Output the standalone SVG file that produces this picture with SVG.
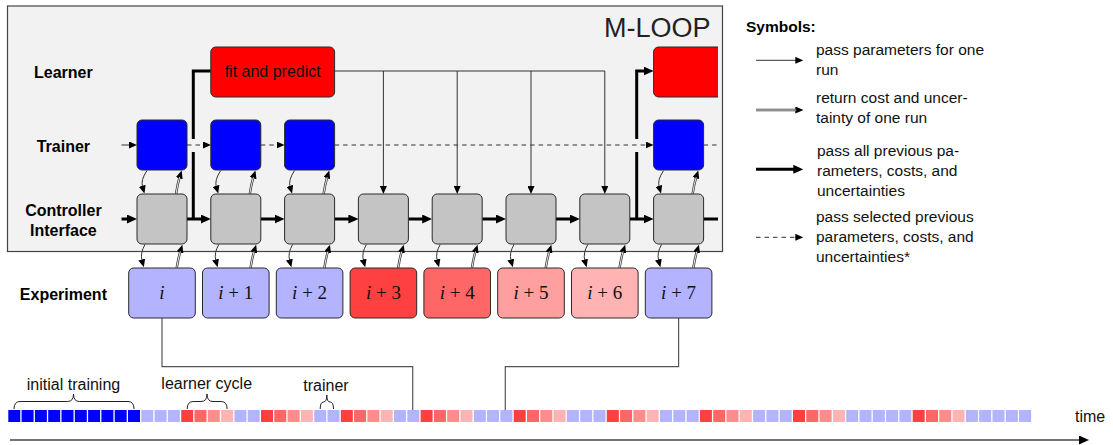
<svg xmlns="http://www.w3.org/2000/svg" width="1113" height="445" viewBox="0 0 1113 445">
<defs>
<style>
.lbl{font-family:"Liberation Sans",Arial,sans-serif;font-weight:bold;font-size:16px;fill:#000;text-anchor:middle}
.leg{font-family:"Liberation Sans",Arial,sans-serif;font-size:15.5px;fill:#111}
.sym{font-family:"Liberation Sans",Arial,sans-serif;font-weight:bold;font-size:15.5px;fill:#000}
.txt{font-family:"Liberation Sans",Arial,sans-serif;font-size:16px;fill:#111}
.math{font-family:"Liberation Serif","Times New Roman",serif;font-size:19px;fill:#111;text-anchor:middle}
.box{stroke:#2a2a2a;stroke-width:1}
.tr{fill:#0000ff}
.ct{fill:#c4c4c4}
.lr{fill:#ff0000}
.eb{fill:#b3b3ff}
.e3{fill:#ff4040}
.e4{fill:#ff6666}
.e5{fill:#ff9f9f}
.e6{fill:#ffb3b3}
.thin{fill:none;stroke:#333;stroke-width:1}
.thick{fill:none;stroke:#000;stroke-width:3}
.dash{fill:none;stroke:#333;stroke-width:1;stroke-dasharray:4.5 4}
.dblo{fill:none;stroke:#333;stroke-width:2.4}
.dbli{fill:none;stroke:#fff;stroke-width:0.9}
.gl{fill:none;stroke:#555;stroke-width:1.2}
.br{fill:none;stroke:#222;stroke-width:1}
.d{fill:#0000ff}
.l{fill:#b3b3ff}
.r1{fill:#ff4040}
.r2{fill:#ff6666}
.r3{fill:#ff8c8c}
.r4{fill:#ffb3b3}
</style>
<marker id="a" viewBox="0 0 8 7" refX="1" refY="3.5" markerWidth="8" markerHeight="7" markerUnits="userSpaceOnUse" orient="auto"><path d="M0,0 L8,3.5 L0,7 z" fill="#000"/></marker>
<marker id="ab" viewBox="0 0 10 9" refX="1" refY="4.5" markerWidth="10" markerHeight="9" markerUnits="userSpaceOnUse" orient="auto"><path d="M0,0 L10,4.5 L0,9 z" fill="#000"/></marker>
<clipPath id="pc"><rect x="0" y="0" width="718" height="445"/></clipPath>
</defs>

<rect id="panel" x="7.5" y="6" width="715" height="245.5" fill="#f2f2f2" stroke="#444" stroke-width="1.2"/>
<text x="710.5" y="36.7" font-family="'Liberation Sans',Arial,sans-serif" font-size="27" fill="#222" text-anchor="end">M-LOOP</text>

<g id="row-labels">
<text class="lbl" x="63.4" y="78.3">Learner</text>
<text class="lbl" x="63.4" y="151.7">Trainer</text>
<text class="lbl" x="63.4" y="216">Controller</text>
<text class="lbl" x="63.4" y="235.7">Interface</text>
<text class="lbl" x="63.4" y="299.5">Experiment</text>
</g>

<g id="connectors" clip-path="url(#pc)">
<path class="thin" d="M121.5,145 H130" marker-end="url(#a)"/>
<path class="dash" d="M187,145 H204" marker-end="url(#a)"/>
<path class="dash" d="M260.8,145 H277.6" marker-end="url(#a)"/>
<path class="dash" d="M334.6,145 H646.6" marker-end="url(#a)"/>
<path class="dash" d="M703.6,145 H720"/>
<path class="thick" d="M121.5,219 H128" marker-end="url(#ab)"/>
<path class="thick" d="M187,219 H201.8" marker-end="url(#ab)"/>
<path class="thick" d="M260.8,219 H275.6" marker-end="url(#ab)"/>
<path class="thick" d="M334.6,219 H349.4" marker-end="url(#ab)"/>
<path class="thick" d="M408.4,219 H423.2" marker-end="url(#ab)"/>
<path class="thick" d="M482.2,219 H497" marker-end="url(#ab)"/>
<path class="thick" d="M556,219 H570.8" marker-end="url(#ab)"/>
<path class="thick" d="M629.8,219 H644.6" marker-end="url(#ab)"/>
<path class="thick" d="M703.6,219 H720"/>
<path class="thick" d="M193.3,219 V152"/>
<path class="thick" d="M193.3,139 V71 H211"/>
<path class="thick" d="M636.7,219 V152"/>
<path class="thick" d="M636.7,139 V71 H644.6" marker-end="url(#ab)"/>
<path class="thin" d="M334.6,71 H604.8"/>
<path class="thin" d="M383.4,71 V187" marker-end="url(#a)"/>
<path class="thin" d="M457.2,71 V187" marker-end="url(#a)"/>
<path class="thin" d="M531,71 V187" marker-end="url(#a)"/>
<path class="thin" d="M604.8,71 V187" marker-end="url(#a)"/>
<path class="thin" d="M147,170.5 Q140.5,180 142.5,186.8" marker-end="url(#a)"/>
<path class="thin" d="M220.8,170.5 Q214.3,180 216.3,186.8" marker-end="url(#a)"/>
<path class="thin" d="M294.6,170.5 Q288.1,180 290.1,186.8" marker-end="url(#a)"/>
<path class="thin" d="M663.6,170.5 Q657.1,180 659.1,186.8" marker-end="url(#a)"/>
<path class="dblo" d="M176,194 Q177.5,184 179.6,177.2" marker-end="url(#a)"/><path class="dbli" d="M176,194 Q177.5,184 179.6,177.2"/>
<path class="dblo" d="M249.8,194 Q251.3,184 253.4,177.2" marker-end="url(#a)"/><path class="dbli" d="M249.8,194 Q251.3,184 253.4,177.2"/>
<path class="dblo" d="M323.6,194 Q325.1,184 327.2,177.2" marker-end="url(#a)"/><path class="dbli" d="M323.6,194 Q325.1,184 327.2,177.2"/>
<path class="dblo" d="M692.6,194 Q694.1,184 696.2,177.2" marker-end="url(#a)"/><path class="dbli" d="M692.6,194 Q694.1,184 696.2,177.2"/>
</g>

<g id="connectors-experiment">
<path class="thin" d="M145,244.5 Q140,253 142,260.5" marker-end="url(#a)"/>
<path class="thin" d="M218.8,244.5 Q213.8,253 215.8,260.5" marker-end="url(#a)"/>
<path class="thin" d="M292.6,244.5 Q287.6,253 289.6,260.5" marker-end="url(#a)"/>
<path class="thin" d="M366.4,244.5 Q361.4,253 363.4,260.5" marker-end="url(#a)"/>
<path class="thin" d="M440.2,244.5 Q435.2,253 437.2,260.5" marker-end="url(#a)"/>
<path class="thin" d="M514,244.5 Q509,253 511,260.5" marker-end="url(#a)"/>
<path class="thin" d="M587.8,244.5 Q582.8,253 584.8,260.5" marker-end="url(#a)"/>
<path class="thin" d="M661.6,244.5 Q656.6,253 658.6,260.5" marker-end="url(#a)"/>
<path class="dblo" d="M176.7,268 Q178.3,258 180.3,251.5" marker-end="url(#a)"/><path class="dbli" d="M176.7,268 Q178.3,258 180.3,251.5"/>
<path class="dblo" d="M250.5,268 Q252.1,258 254.1,251.5" marker-end="url(#a)"/><path class="dbli" d="M250.5,268 Q252.1,258 254.1,251.5"/>
<path class="dblo" d="M324.3,268 Q325.9,258 327.9,251.5" marker-end="url(#a)"/><path class="dbli" d="M324.3,268 Q325.9,258 327.9,251.5"/>
<path class="dblo" d="M398.1,268 Q399.7,258 401.7,251.5" marker-end="url(#a)"/><path class="dbli" d="M398.1,268 Q399.7,258 401.7,251.5"/>
<path class="dblo" d="M471.9,268 Q473.5,258 475.5,251.5" marker-end="url(#a)"/><path class="dbli" d="M471.9,268 Q473.5,258 475.5,251.5"/>
<path class="dblo" d="M545.7,268 Q547.3,258 549.3,251.5" marker-end="url(#a)"/><path class="dbli" d="M545.7,268 Q547.3,258 549.3,251.5"/>
<path class="dblo" d="M619.5,268 Q621.1,258 623.1,251.5" marker-end="url(#a)"/><path class="dbli" d="M619.5,268 Q621.1,258 623.1,251.5"/>
<path class="dblo" d="M693.3,268 Q694.9,258 696.9,251.5" marker-end="url(#a)"/><path class="dbli" d="M693.3,268 Q694.9,258 696.9,251.5"/>
<path class="gl" d="M162,318 V366.7 H412.7 V410"/>
<path class="gl" d="M678.6,318 V366.7 H505.3 V410"/>
</g>

<g id="learner-0"><rect class="box lr" x="210.8" y="47" width="123.8" height="50" rx="5"/>
<text x="272.7" y="77" font-family="'Liberation Sans',Arial,sans-serif" font-size="16" fill="#111" text-anchor="middle">fit and predict</text></g>
<g id="learner-7" clip-path="url(#pc)"><rect class="box lr" x="653.6" y="47" width="80" height="50" rx="5"/></g>

<g id="trainer-0"><rect class="box tr" x="137" y="120" width="50" height="50" rx="5"/></g>
<g id="trainer-1"><rect class="box tr" x="210.8" y="120" width="50" height="50" rx="5"/></g>
<g id="trainer-2"><rect class="box tr" x="284.6" y="120" width="50" height="50" rx="5"/></g>
<g id="trainer-7"><rect class="box tr" x="653.6" y="120" width="50" height="50" rx="5"/></g>

<g id="controller-0"><rect class="box ct" x="137" y="194" width="50" height="50" rx="5"/></g>
<g id="controller-1"><rect class="box ct" x="210.8" y="194" width="50" height="50" rx="5"/></g>
<g id="controller-2"><rect class="box ct" x="284.6" y="194" width="50" height="50" rx="5"/></g>
<g id="controller-3"><rect class="box ct" x="358.4" y="194" width="50" height="50" rx="5"/></g>
<g id="controller-4"><rect class="box ct" x="432.2" y="194" width="50" height="50" rx="5"/></g>
<g id="controller-5"><rect class="box ct" x="506" y="194" width="50" height="50" rx="5"/></g>
<g id="controller-6"><rect class="box ct" x="579.8" y="194" width="50" height="50" rx="5"/></g>
<g id="controller-7"><rect class="box ct" x="653.6" y="194" width="50" height="50" rx="5"/></g>

<g id="exp-0"><rect class="box eb" x="128.7" y="268" width="66.6" height="50" rx="5"/><text class="math" x="162" y="298.5"><tspan font-style="italic">i</tspan></text></g>
<g id="exp-1"><rect class="box eb" x="202.5" y="268" width="66.6" height="50" rx="5"/><text class="math" x="235.8" y="298.5"><tspan font-style="italic">i</tspan> + 1</text></g>
<g id="exp-2"><rect class="box eb" x="276.3" y="268" width="66.6" height="50" rx="5"/><text class="math" x="309.6" y="298.5"><tspan font-style="italic">i</tspan> + 2</text></g>
<g id="exp-3"><rect class="box e3" x="350.1" y="268" width="66.6" height="50" rx="5"/><text class="math" x="383.4" y="298.5"><tspan font-style="italic">i</tspan> + 3</text></g>
<g id="exp-4"><rect class="box e4" x="423.9" y="268" width="66.6" height="50" rx="5"/><text class="math" x="457.2" y="298.5"><tspan font-style="italic">i</tspan> + 4</text></g>
<g id="exp-5"><rect class="box e5" x="497.7" y="268" width="66.6" height="50" rx="5"/><text class="math" x="531" y="298.5"><tspan font-style="italic">i</tspan> + 5</text></g>
<g id="exp-6"><rect class="box e6" x="571.5" y="268" width="66.6" height="50" rx="5"/><text class="math" x="604.8" y="298.5"><tspan font-style="italic">i</tspan> + 6</text></g>
<g id="exp-7"><rect class="box eb" x="645.3" y="268" width="66.6" height="50" rx="5"/><text class="math" x="678.6" y="298.5"><tspan font-style="italic">i</tspan> + 7</text></g>

<g id="legend">
<text class="sym" x="746" y="31.7">Symbols:</text>
<path class="thin" d="M756,60.3 H796.3" marker-end="url(#a)"/>
<text class="leg" x="816" y="55">pass parameters for one</text>
<text class="leg" x="816" y="75">run</text>
<path class="dblo" d="M756,110 H796.3" marker-end="url(#a)"/><path class="dbli" d="M756,110 H796.3"/>
<text class="leg" x="816" y="102.7">return cost and uncer-</text>
<text class="leg" x="816" y="122.7">tainty of one run</text>
<path class="thick" d="M756,169.3 H794.3" marker-end="url(#ab)"/>
<text class="leg" x="817" y="156">pass all previous pa-</text>
<text class="leg" x="817" y="176">rameters, costs, and</text>
<text class="leg" x="817" y="195.5">uncertainties</text>
<path class="dash" d="M756,237.3 H796.3" marker-end="url(#a)"/>
<text class="leg" x="816" y="221.7">pass selected previous</text>
<text class="leg" x="816" y="241.7">parameters, costs, and</text>
<text class="leg" x="816" y="261.7">uncertainties*</text>
</g>

<g id="timeline">
<rect class="d" x="8.3" y="410" width="12" height="12"/>
<rect class="d" x="21.6" y="410" width="12" height="12"/>
<rect class="d" x="34.9" y="410" width="12" height="12"/>
<rect class="d" x="48.2" y="410" width="12" height="12"/>
<rect class="d" x="61.5" y="410" width="12" height="12"/>
<rect class="d" x="74.8" y="410" width="12" height="12"/>
<rect class="d" x="88.1" y="410" width="12" height="12"/>
<rect class="d" x="101.4" y="410" width="12" height="12"/>
<rect class="d" x="114.7" y="410" width="12" height="12"/>
<rect class="d" x="128" y="410" width="12" height="12"/>
<rect class="l" x="141.3" y="410" width="12" height="12"/>
<rect class="l" x="154.6" y="410" width="12" height="12"/>
<rect class="l" x="167.9" y="410" width="12" height="12"/>
<rect class="r1" x="181.2" y="410" width="12" height="12"/>
<rect class="r2" x="194.5" y="410" width="12" height="12"/>
<rect class="r3" x="207.8" y="410" width="12" height="12"/>
<rect class="r4" x="221.1" y="410" width="12" height="12"/>
<rect class="l" x="234.4" y="410" width="12" height="12"/>
<rect class="l" x="247.7" y="410" width="12" height="12"/>
<rect class="r1" x="261" y="410" width="12" height="12"/>
<rect class="r2" x="274.3" y="410" width="12" height="12"/>
<rect class="r3" x="287.6" y="410" width="12" height="12"/>
<rect class="r4" x="300.9" y="410" width="12" height="12"/>
<rect class="l" x="314.2" y="410" width="12" height="12"/>
<rect class="l" x="327.5" y="410" width="12" height="12"/>
<rect class="r1" x="340.8" y="410" width="12" height="12"/>
<rect class="r2" x="354.1" y="410" width="12" height="12"/>
<rect class="r3" x="367.4" y="410" width="12" height="12"/>
<rect class="r4" x="380.7" y="410" width="12" height="12"/>
<rect class="l" x="394" y="410" width="12" height="12"/>
<rect class="l" x="407.3" y="410" width="12" height="12"/>
<rect class="r1" x="420.6" y="410" width="12" height="12"/>
<rect class="r2" x="433.9" y="410" width="12" height="12"/>
<rect class="r3" x="447.2" y="410" width="12" height="12"/>
<rect class="r4" x="460.5" y="410" width="12" height="12"/>
<rect class="l" x="473.8" y="410" width="12" height="12"/>
<rect class="l" x="487.1" y="410" width="12" height="12"/>
<rect class="l" x="500.4" y="410" width="12" height="12"/>
<rect class="r1" x="513.7" y="410" width="12" height="12"/>
<rect class="r2" x="527" y="410" width="12" height="12"/>
<rect class="r3" x="540.3" y="410" width="12" height="12"/>
<rect class="r4" x="553.6" y="410" width="12" height="12"/>
<rect class="l" x="566.9" y="410" width="12" height="12"/>
<rect class="l" x="580.2" y="410" width="12" height="12"/>
<rect class="l" x="593.5" y="410" width="12" height="12"/>
<rect class="r1" x="606.8" y="410" width="12" height="12"/>
<rect class="r2" x="620.1" y="410" width="12" height="12"/>
<rect class="r3" x="633.4" y="410" width="12" height="12"/>
<rect class="r4" x="646.7" y="410" width="12" height="12"/>
<rect class="l" x="660" y="410" width="12" height="12"/>
<rect class="l" x="673.3" y="410" width="12" height="12"/>
<rect class="l" x="686.6" y="410" width="12" height="12"/>
<rect class="r1" x="699.9" y="410" width="12" height="12"/>
<rect class="r2" x="713.2" y="410" width="12" height="12"/>
<rect class="r3" x="726.5" y="410" width="12" height="12"/>
<rect class="r4" x="739.8" y="410" width="12" height="12"/>
<rect class="l" x="753.1" y="410" width="12" height="12"/>
<rect class="l" x="766.4" y="410" width="12" height="12"/>
<rect class="l" x="779.7" y="410" width="12" height="12"/>
<rect class="r1" x="793" y="410" width="12" height="12"/>
<rect class="r2" x="806.3" y="410" width="12" height="12"/>
<rect class="r3" x="819.6" y="410" width="12" height="12"/>
<rect class="r4" x="832.9" y="410" width="12" height="12"/>
<rect class="l" x="846.2" y="410" width="12" height="12"/>
<rect class="l" x="859.5" y="410" width="12" height="12"/>
<rect class="l" x="872.8" y="410" width="12" height="12"/>
<rect class="l" x="886.1" y="410" width="12" height="12"/>
<rect class="l" x="899.4" y="410" width="12" height="12"/>
<rect class="r1" x="912.7" y="410" width="12" height="12"/>
<rect class="r2" x="926" y="410" width="12" height="12"/>
<rect class="r3" x="939.3" y="410" width="12" height="12"/>
<rect class="r4" x="952.6" y="410" width="12" height="12"/>
<rect class="l" x="965.9" y="410" width="12" height="12"/>
<rect class="l" x="979.2" y="410" width="12" height="12"/>
<rect class="l" x="992.5" y="410" width="12" height="12"/>
<rect class="l" x="1005.8" y="410" width="12" height="12"/>
<rect class="l" x="1019.1" y="410" width="12" height="12"/>
<path class="br" d="M14,409 Q14,401.5 20,401.5 H67.5 Q73.5,401.5 73.5,394 Q73.5,401.5 79.5,401.5 H128 Q134,401.5 134,409"/>
<path class="br" d="M187.2,409 Q187.2,401.5 193.2,401.5 H201 Q207,401.5 207,394 Q207,401.5 213,401.5 H221.1 Q227.1,401.5 227.1,409"/>
<path class="br" d="M320.2,409 Q320.2,402 323.5,402 Q326.8,402 326.8,395 Q326.8,402 330.1,402 Q333.5,402 333.5,409"/>
<text class="txt" x="73.5" y="390" text-anchor="middle">initial training</text>
<text class="txt" x="206.7" y="389.3" text-anchor="middle">learner cycle</text>
<text class="txt" x="326" y="390.7" text-anchor="middle">trainer</text>
<text class="txt" x="1075" y="421.7">time</text>
<path d="M10,440 H1080" fill="none" stroke="#444" stroke-width="1.6" marker-end="url(#ab)"/>
</g>
</svg>
